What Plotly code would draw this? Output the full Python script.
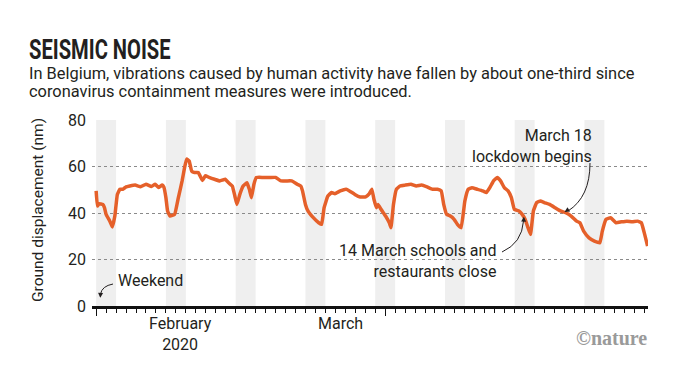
import plotly.graph_objects as go

# ---------------- data ----------------
times = [
    "2020-02-01 00:00", "2020-02-01 03:00", "2020-02-01 07:00", "2020-02-01 16:00", "2020-02-01 20:00",
    "2020-02-02 00:00", "2020-02-02 09:00", "2020-02-02 15:00", "2020-02-02 21:00", "2020-02-03 03:00",
    "2020-02-03 09:00", "2020-02-03 16:00", "2020-02-04 00:00", "2020-02-04 09:00", "2020-02-04 22:00",
    "2020-02-05 11:00", "2020-02-06 00:00", "2020-02-06 13:00", "2020-02-06 22:00", "2020-02-07 06:00",
    "2020-02-07 15:00", "2020-02-07 19:00", "2020-02-08 00:00", "2020-02-08 04:00", "2020-02-08 10:00",
    "2020-02-08 21:00", "2020-02-09 06:00", "2020-02-09 15:00", "2020-02-09 21:00", "2020-02-10 02:00",
    "2020-02-10 08:00", "2020-02-10 14:00", "2020-02-10 21:00", "2020-02-11 06:00", "2020-02-11 16:00",
    "2020-02-11 23:00", "2020-02-12 08:00", "2020-02-12 21:00", "2020-02-13 10:00", "2020-02-13 23:00",
    "2020-02-14 07:00", "2020-02-14 16:00", "2020-02-14 22:00", "2020-02-15 03:00", "2020-02-15 10:00",
    "2020-02-15 18:00", "2020-02-16 03:00", "2020-02-16 09:00", "2020-02-16 14:00", "2020-02-16 20:00",
    "2020-02-17 02:00", "2020-02-17 18:00", "2020-02-18 11:00", "2020-02-19 00:00", "2020-02-19 13:00",
    "2020-02-20 02:00", "2020-02-20 15:00", "2020-02-21 04:00", "2020-02-21 13:00", "2020-02-21 17:00",
    "2020-02-22 00:00", "2020-02-22 06:00", "2020-02-22 19:00", "2020-02-23 08:00", "2020-02-23 15:00",
    "2020-02-23 21:00", "2020-02-24 06:00", "2020-02-24 15:00", "2020-02-24 23:00", "2020-02-25 12:00",
    "2020-02-26 02:00", "2020-02-26 10:00", "2020-02-26 23:00", "2020-02-27 12:00", "2020-02-28 01:00",
    "2020-02-28 10:00", "2020-02-28 16:00", "2020-02-28 21:00", "2020-02-29 03:00", "2020-02-29 07:00",
    "2020-02-29 14:00", "2020-03-01 01:00", "2020-03-01 10:00", "2020-03-01 14:00", "2020-03-01 20:00",
    "2020-03-02 03:00", "2020-03-02 12:00", "2020-03-03 00:00", "2020-03-03 14:00", "2020-03-04 03:00",
    "2020-03-04 16:00", "2020-03-05 05:00", "2020-03-05 18:00", "2020-03-06 06:00", "2020-03-06 15:00",
    "2020-03-06 21:00", "2020-03-07 04:00", "2020-03-07 13:00", "2020-03-07 22:00", "2020-03-08 06:00",
    "2020-03-08 15:00", "2020-03-09 00:00", "2020-03-09 08:00", "2020-03-09 17:00", "2020-03-10 06:00",
    "2020-03-10 19:00", "2020-03-11 04:00", "2020-03-11 12:00", "2020-03-11 21:00", "2020-03-12 06:00",
    "2020-03-12 14:00", "2020-03-12 23:00", "2020-03-13 08:00", "2020-03-13 16:00", "2020-03-13 23:00",
    "2020-03-14 10:00", "2020-03-14 18:00", "2020-03-15 01:00", "2020-03-15 08:00", "2020-03-15 14:00",
    "2020-03-15 21:00", "2020-03-16 05:00", "2020-03-16 14:00", "2020-03-16 23:00", "2020-03-17 12:00",
    "2020-03-18 01:00", "2020-03-18 14:00", "2020-03-19 03:00", "2020-03-19 16:00", "2020-03-20 05:00",
    "2020-03-20 13:00", "2020-03-20 22:00", "2020-03-21 11:00", "2020-03-22 00:00", "2020-03-22 13:00",
    "2020-03-22 19:00", "2020-03-23 04:00", "2020-03-23 15:00", "2020-03-24 04:00", "2020-03-24 17:00",
    "2020-03-25 06:00", "2020-03-25 19:00", "2020-03-26 08:00", "2020-03-26 17:00", "2020-03-27 01:00",
    "2020-03-27 08:00",
]
displacement = [
    49.5, 43.0, 44.0, 43.7, 42.3,
    39.4, 36.5, 34.0, 38.7, 48.0,
    50.2, 50.2, 51.2, 51.6, 52.0,
    51.3, 52.4, 51.4, 52.4, 51.0,
    52.0, 51.2, 46.6, 40.9, 38.7,
    39.4, 46.6, 53.8, 59.6, 63.2,
    62.4, 58.0, 57.4, 57.4, 54.0,
    56.0, 55.3, 54.5, 53.8, 54.5,
    53.0, 51.6, 47.3, 43.7, 48.0,
    51.6, 53.0, 50.2, 46.6, 52.4,
    55.3, 55.3, 55.3, 55.3, 53.8,
    53.8, 53.8, 52.4, 51.6, 49.5,
    43.7, 40.9, 38.0, 35.8, 35.1,
    42.3, 47.3, 48.8, 48.3, 49.5,
    50.2, 49.5, 48.0, 46.9, 46.9,
    48.3, 50.2, 45.9, 42.3, 43.7,
    41.6, 38.7, 35.8, 33.7, 43.7,
    50.2, 51.6, 52.0, 52.4, 51.6,
    52.0, 51.2, 50.2, 50.2, 49.5,
    43.7, 39.4, 38.7, 37.3, 35.1,
    33.7, 45.2, 50.2, 50.9, 50.2,
    49.5, 48.8, 50.9, 53.8, 55.3,
    53.8, 50.9, 49.5, 46.6, 41.6,
    40.9, 39.4, 37.3, 33.7, 30.8,
    40.9, 44.5, 45.2, 44.5, 43.7,
    42.3, 40.9, 40.1, 38.7, 36.5,
    35.8, 32.2, 29.3, 27.9, 27.2,
    32.2, 37.3, 38.0, 35.8, 36.2,
    36.5, 36.2, 36.5, 35.8, 30.8,
    25.8,
]
weekend_starts = ["2020-02-01", "2020-02-08", "2020-02-15", "2020-02-22",
                  "2020-02-29", "2020-03-07", "2020-03-14", "2020-03-21"]
weekend_ends = ["2020-02-03", "2020-02-10", "2020-02-17", "2020-02-24",
                "2020-03-02", "2020-03-09", "2020-03-16", "2020-03-23"]
y_ticks = [0, 20, 40, 60, 80]
month_ticks = ["2020-02-01", "2020-03-01"]
month_labels = ["February<br>2020", "March"]
month_label_pos = ["2020-02-09 12:00", "2020-02-25 12:00"]

title_text = "SEISMIC NOISE"
subtitle_1 = "In Belgium, vibrations caused by human activity have fallen by about one-third since"
subtitle_2 = "coronavirus containment measures were introduced."
y_title = "Ground displacement (nm)"

# ---------------- layout helpers ----------------
W, H = 680, 383
PL, PR, PT, PB = 92, 648, 120, 306


def px(x):
    return (x - PL) / (PR - PL)


def py(y):
    return (PB - y) / (PB - PT)


TXT = "#231F20"
FONT = "Roboto, 'Noto Sans', sans-serif"
ORANGE = "#E5602A"

fig = go.Figure()
fig.add_trace(go.Scatter(
    x=times, y=displacement, mode="lines",
    line=dict(color=ORANGE, width=3.5, shape="spline", smoothing=0.3),
    hoverinfo="skip", showlegend=False,
))

shapes = []
for s, e in zip(weekend_starts, weekend_ends):
    shapes.append(dict(type="rect", xref="x", yref="paper", x0=s, x1=e, y0=0, y1=1,
                       fillcolor="#EFEFEF", line=dict(width=0), layer="below"))


def curve(p0, c, p1):
    return dict(type="path", xref="paper", yref="paper",
                path=f"M {px(p0[0])},{py(p0[1])} Q {px(c[0])},{py(c[1])} {px(p1[0])},{py(p1[1])}",
                line=dict(color=TXT, width=1))


shapes.append(curve((113, 284), (102, 286), (100.5, 294)))
shapes.append(curve((502, 252), (522, 243), (523.5, 221)))
shapes.append(curve((590, 163), (590, 197), (568, 211)))

annotations = []
# title & subtitle
annotations.append(dict(xref="paper", yref="paper", x=px(27), y=py(50), xanchor="left", yanchor="middle",
                        text=f"<b>{title_text}</b>", showarrow=False,
                        font=dict(family="Roboto, sans-serif", size=28, color=TXT, weight=900)))
annotations.append(dict(xref="paper", yref="paper", x=px(27), y=py(73), xanchor="left", yanchor="middle",
                        text=subtitle_1, showarrow=False, font=dict(family=FONT, size=16.4, color=TXT)))
annotations.append(dict(xref="paper", yref="paper", x=px(27), y=py(92), xanchor="left", yanchor="middle",
                        text=subtitle_2, showarrow=False, font=dict(family=FONT, size=16.4, color=TXT)))
# y-axis title
annotations.append(dict(xref="paper", yref="paper", x=px(38), y=py(210), xanchor="center", yanchor="middle",
                        text=y_title, textangle=-90, showarrow=False, font=dict(family=FONT, size=15.5, color=TXT)))
# month labels
for pos, lab in zip(month_label_pos, month_labels):
    annotations.append(dict(xref="x", yref="paper", x=pos, y=py(312), xanchor="center", yanchor="top",
                            text=lab, showarrow=False, align="center",
                            font=dict(family=FONT, size=16, color=TXT)))
# weekend label
annotations.append(dict(xref="paper", yref="paper", x=px(116), y=py(280), xanchor="left", yanchor="middle",
                        text="Weekend", showarrow=False, font=dict(family=FONT, size=16, color=TXT)))
annotations.append(dict(xref="x", yref="y", x="2020-02-01 10:00", y=3.5, ax=0.3, ay=-5, text="",
                        showarrow=True, arrowhead=2, arrowsize=1, arrowwidth=1, arrowcolor=TXT))
# 14 March
annotations.append(dict(xref="paper", yref="paper", x=px(498), y=py(261), xanchor="right", yanchor="middle",
                        text="14 March schools and<br>restaurants close", align="right", showarrow=False,
                        font=dict(family=FONT, size=16, color=TXT)))
annotations.append(dict(xref="x", yref="y", x="2020-03-14 22:00", y=38.4, ax=-0.2, ay=5, text="",
                        showarrow=True, arrowhead=2, arrowsize=1, arrowwidth=1, arrowcolor=TXT))
# March 18
annotations.append(dict(xref="paper", yref="paper", x=px(594), y=py(146), xanchor="right", yanchor="middle",
                        text="March 18<br>lockdown begins", align="right", showarrow=False,
                        font=dict(family=FONT, size=16, color=TXT)))
annotations.append(dict(xref="x", yref="y", x="2020-03-19 00:00", y=40.4, ax=4, ay=-2.5, text="",
                        showarrow=True, arrowhead=2, arrowsize=1, arrowwidth=1, arrowcolor=TXT))
# nature logo
annotations.append(dict(xref="paper", yref="paper", x=px(649), y=py(338), xanchor="right", yanchor="middle",
                        text="<b>©nature</b>", showarrow=False,
                        font=dict(family="'Liberation Serif', 'DejaVu Serif', serif", size=20, color="#9A9A9A")))

fig.update_layout(
    width=W, height=H,
    margin=dict(l=PL, r=W - PR, t=PT, b=H - PB, pad=0),
    paper_bgcolor="white", plot_bgcolor="white",
    shapes=shapes, annotations=annotations,
    showlegend=False, hovermode=False,
    xaxis=dict(
        type="date", range=["2020-01-31 14:00", "2020-03-27 09:00"],
        showgrid=False, zeroline=False,
        showline=True, linecolor="#111", linewidth=2.5,
        tickvals=month_ticks, showticklabels=False,
        ticks="outside", ticklen=7, tickwidth=1.2, tickcolor="#111",
        minor=dict(dtick=86400000, ticks="outside", ticklen=4, tickwidth=1, tickcolor="#111", showgrid=False),
        fixedrange=True,
    ),
    yaxis=dict(
        range=[0, 80], tickvals=y_ticks, showgrid=True, gridcolor="#8a8a8a", gridwidth=1, griddash="dot",
        zeroline=False, showline=False, ticks="",
        tickfont=dict(family=FONT, size=16, color=TXT), ticklabelstandoff=5,
        fixedrange=True,
    ),
)

post = """
document.body.style.margin = '0';
var gd = document.getElementById('{plot_id}');
gd.querySelectorAll('.annotation-text').forEach(function (t) {
  if (t.textContent.indexOf('SEISMIC') >= 0) {
    t.style.transformBox = 'fill-box';
    t.style.transformOrigin = '0% 50%';
    t.style.transform = 'scaleX(0.72)';
  }
});
"""

fig.write_html("out.html", post_script=post, config={"displayModeBar": False, "staticPlot": True})
